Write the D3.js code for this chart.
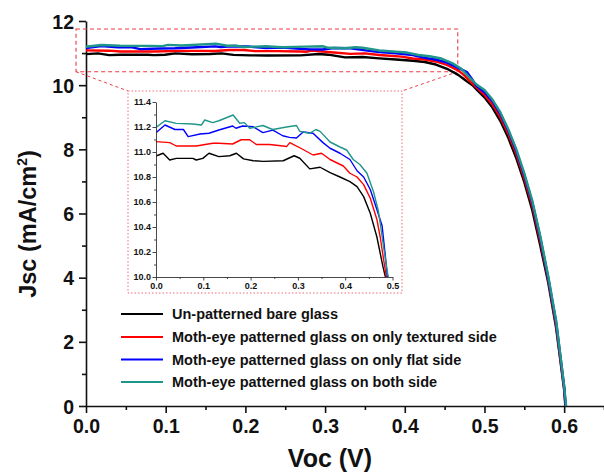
<!DOCTYPE html>
<html><head><meta charset="utf-8">
<script src="https://cdn.jsdelivr.net/npm/d3@7/dist/d3.min.js"></script>
<style>
html,body{margin:0;padding:0;background:#fff;}
svg text{font-family:"Liberation Sans",Arial,Helvetica,sans-serif;font-weight:bold;fill:#111;}
</style></head>
<body><svg id="c" width="604" height="472"></svg>
<script>
// ---- data ----
const seriesNames = ["Un-patterned bare glass","Moth-eye patterned glass on only textured side","Moth-eye patterned glass on only flat side","Moth-eye patterned glass on both side"];
const seriesColors = ["#000000","#ff0000","#0000ff","#1f968a"];

const vBare = [0,0.015,0.029,0.043,0.078,0.085,0.099,0.112,0.133,0.156,0.170,0.185,0.206,0.227,0.269,0.292,0.304,0.325,0.347,0.368,0.389,0.41,0.425,0.439,0.453,0.467,0.474,0.48,0.485,0.49,0.50,0.51,0.52,0.53,0.54,0.55,0.56,0.57,0.58,0.59,0.60,0.6015];
const jBare = [10.968,10.99,10.936,10.949,10.949,10.936,10.949,10.99,10.963,10.97,10.99,10.945,10.93,10.925,10.93,10.97,10.95,10.865,10.878,10.835,10.80,10.763,10.723,10.643,10.51,10.32,10.19,10.08,10.0,9.87,9.62,9.3,8.88,8.35,7.72,6.98,6.1,5.0,3.85,2.42,0.5,0];

const vTex = [0,0.029,0.043,0.085,0.12,0.133,0.162,0.18,0.198,0.212,0.24,0.269,0.276,0.283,0.311,0.332,0.35,0.368,0.396,0.41,0.425,0.439,0.453,0.467,0.474,0.482,0.487,0.49,0.50,0.51,0.52,0.53,0.54,0.55,0.56,0.57,0.58,0.59,0.60,0.6018];
const jTex = [11.083,11.075,11.048,11.048,11.07,11.07,11.064,11.098,11.098,11.06,11.06,11.048,11.043,11.075,11.02,10.976,10.99,10.94,10.888,10.83,10.80,10.739,10.63,10.46,10.32,10.12,10.0,9.93,9.7,9.4,9.0,8.48,7.85,7.1,6.25,5.15,3.95,2.5,0.55,0];

const vFlat = [0,0.019,0.040,0.058,0.068,0.093,0.112,0.133,0.162,0.169,0.183,0.205,0.226,0.247,0.268,0.282,0.297,0.311,0.332,0.353,0.368,0.389,0.41,0.425,0.439,0.453,0.467,0.478,0.484,0.488,0.49,0.50,0.51,0.52,0.53,0.54,0.55,0.56,0.57,0.58,0.59,0.60,0.602];
const jFlat = [11.155,11.216,11.18,11.18,11.123,11.144,11.15,11.176,11.208,11.19,11.208,11.203,11.155,11.175,11.13,11.117,11.112,11.16,11.15,11.075,11.03,10.99,10.94,10.85,10.80,10.70,10.54,10.41,10.2,10.05,9.98,9.78,9.5,9.1,8.58,7.95,7.2,6.35,5.25,4.0,2.6,0.6,0];

const vBoth = [0,0.019,0.043,0.078,0.096,0.103,0.12,0.133,0.163,0.177,0.187,0.198,0.226,0.24,0.247,0.276,0.297,0.304,0.325,0.338,0.347,0.368,0.389,0.403,0.417,0.431,0.446,0.46,0.47,0.474,0.482,0.49,0.50,0.51,0.52,0.53,0.54,0.55,0.56,0.57,0.58,0.59,0.60,0.6025];
const jBoth = [11.197,11.25,11.229,11.224,11.216,11.256,11.235,11.25,11.296,11.23,11.235,11.19,11.212,11.19,11.18,11.2,11.212,11.165,11.15,11.18,11.165,11.08,11.04,11.016,10.94,10.90,10.83,10.68,10.53,10.43,10.22,10.02,9.85,9.55,9.15,8.62,8.0,7.25,6.4,5.3,4.05,2.65,0.62,0];

const xTicksMain = [0,0.1,0.2,0.3,0.4,0.5,0.6];
const yTicksMain = [0,2,4,6,8,10,12];
const xTicksInset = [0,0.1,0.2,0.3,0.4,0.5];
const yTicksInset = [10.0,10.2,10.4,10.6,10.8,11.0,11.2,11.4];
const zoomRegion = {v0:-0.0125, v1:0.4665, j0:10.42, j1:11.75};

const series = [[vBare,jBare],[vTex,jTex],[vFlat,jFlat],[vBoth,jBoth]].map((p,i)=>({
  name:seriesNames[i], color:seriesColors[i], pts:p[0].map((v,k)=>[v,p[1][k]])
}));

// ---- layout ----
const svg = d3.select("#c");
const x = d3.scaleLinear().domain([0,0.65]).range([86,604]);
const y = d3.scaleLinear().domain([0,12]).range([406,21]);

// axes main
const gx = svg.append("g").attr("transform","translate(0,406)");
gx.call(d3.axisBottom(x).tickValues(d3.range(0.05,0.66,0.1)).tickSize(4).tickFormat(""))
  .call(g=>g.select(".domain").remove());
gx.append("g").call(d3.axisBottom(x).tickValues(xTicksMain).tickSize(7).tickSizeOuter(0).tickFormat(d3.format(".1f")))
  .call(g=>g.selectAll("text").attr("font-size",19.5).attr("dy",null).attr("y",27).attr("fill","#111"));
gx.selectAll("path,line").attr("stroke","#111").attr("stroke-width",1.6);

const gy = svg.append("g").attr("transform","translate(86,0)");
gy.call(d3.axisLeft(y).tickValues(d3.range(1,12,2)).tickSize(4).tickFormat(""))
  .call(g=>g.select(".domain").remove());
gy.append("g").call(d3.axisLeft(y).tickValues(yTicksMain).tickSize(7).tickSizeOuter(0).tickFormat(d3.format("d")))
  .call(g=>g.selectAll("text").attr("font-size",19.5).attr("x",-12).attr("dy","0.36em").attr("fill","#111"));
gy.selectAll("path,line").attr("stroke","#111").attr("stroke-width",1.6);

// axis titles
svg.append("text").attr("x",330).attr("y",467).attr("text-anchor","middle").attr("font-size",25).text("Voc (V)");
const yt = svg.append("text").attr("transform","translate(36,224) rotate(-90)").attr("text-anchor","middle").attr("font-size",23.5);
yt.append("tspan").text("Jsc (mA/cm");
yt.append("tspan").attr("font-size",14).attr("dy",-9).text("2");
yt.append("tspan").attr("dy",9).text(")");

// zoom region box
const zr = {x0:x(zoomRegion.v0), x1:x(zoomRegion.v1), y0:y(zoomRegion.j1), y1:y(zoomRegion.j0)};
const inset = {x0:128,y0:91,x1:402,y1:293};
svg.append("rect").attr("x",zr.x0).attr("y",zr.y0).attr("width",zr.x1-zr.x0).attr("height",zr.y1-zr.y0)
  .attr("fill","none").attr("stroke","#ee3b43").attr("stroke-width",1.1).attr("stroke-dasharray","4,3");
svg.append("line").attr("x1",zr.x0).attr("y1",zr.y1).attr("x2",inset.x0).attr("y2",inset.y0)
  .attr("stroke","#ee3b43").attr("stroke-width",1).attr("stroke-dasharray","3,3");
svg.append("line").attr("x1",zr.x1).attr("y1",zr.y1).attr("x2",inset.x1).attr("y2",inset.y0)
  .attr("stroke","#ee3b43").attr("stroke-width",1).attr("stroke-dasharray","3,3");
svg.append("rect").attr("x",inset.x0).attr("y",inset.y0).attr("width",inset.x1-inset.x0).attr("height",inset.y1-inset.y0)
  .attr("fill","none").attr("stroke","#f06a78").attr("stroke-width",1).attr("stroke-dasharray","1.5,2");

// main lines
const line = d3.line().x(d=>x(d[0])).y(d=>y(d[1]));
svg.append("g").selectAll("path").data(series).join("path")
  .attr("d",d=>line(d.pts)).attr("fill","none").attr("stroke",d=>d.color).attr("stroke-width",2.4).attr("stroke-linejoin","round");

// inset
const xi = d3.scaleLinear().domain([0,0.5]).range([156,392.5]);
const yi = d3.scaleLinear().domain([10,11.4]).range([277,102]);
svg.append("clipPath").attr("id","ic").append("rect").attr("x",156).attr("y",100).attr("width",240).attr("height",177);
const lineI = d3.line().x(d=>xi(d[0])).y(d=>yi(d[1]));
svg.append("g").attr("clip-path","url(#ic)").selectAll("path").data(series).join("path")
  .attr("d",d=>lineI(d.pts)).attr("fill","none").attr("stroke",d=>d.color).attr("stroke-width",1.4).attr("stroke-linejoin","round");

const gxi = svg.append("g").attr("transform","translate(0,277)");
gxi.call(d3.axisBottom(xi).tickValues(d3.range(0.05,0.5,0.1)).tickSize(2).tickFormat("")).call(g=>g.select(".domain").remove());
gxi.append("g").call(d3.axisBottom(xi).tickValues(xTicksInset).tickSize(3.5).tickSizeOuter(0).tickFormat(d3.format(".1f")))
  .call(g=>g.selectAll("text").attr("font-size",9).attr("y",6).attr("fill","#222"));
gxi.selectAll("path,line").attr("stroke","#333").attr("stroke-width",0.9);
const gyi = svg.append("g").attr("transform","translate(156,0)");
gyi.call(d3.axisLeft(yi).tickValues(d3.range(10.1,11.4,0.2)).tickSize(2).tickFormat("")).call(g=>g.select(".domain").remove());
gyi.append("g").call(d3.axisLeft(yi).tickValues(yTicksInset).tickSize(3.5).tickSizeOuter(0).tickFormat(d3.format(".1f")))
  .call(g=>g.selectAll("text").attr("font-size",9).attr("x",-5).attr("fill","#222"));
gyi.selectAll("path,line").attr("stroke","#333").attr("stroke-width",0.9);

// legend
const lg = svg.append("g");
const rowY = [314,337,359.5,382];
series.forEach((s,i)=>{
  lg.append("line").attr("x1",121).attr("x2",163).attr("y1",rowY[i]).attr("y2",rowY[i]).attr("stroke",s.color).attr("stroke-width",2);
  lg.append("text").attr("x",172).attr("y",rowY[i]).attr("dy","0.36em").attr("font-size",14.5).text(s.name);
});
</script></body></html>
